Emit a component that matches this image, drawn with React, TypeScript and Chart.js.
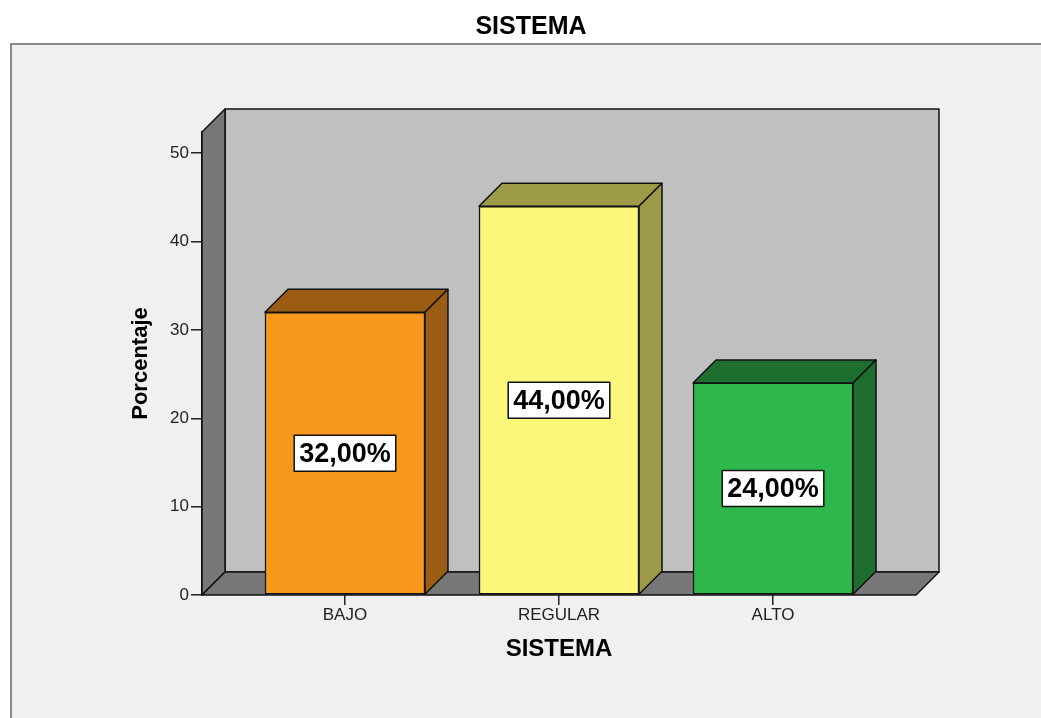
import React, { useEffect, useRef } from "react";
import { Chart, registerables } from "chart.js";

Chart.register(...registerables);

const categories = ["BAJO", "REGULAR", "ALTO"];
const percentages = [32, 44, 24];
const yTickValues = [0, 10, 20, 30, 40, 50];
const frontColors = ["#f8981d", "#fbf77a", "#2eb84b"];
const sideColors = ["#9b5c13", "#9d9a48", "#1e6f2f"];

const FONT = "'Liberation Sans', Arial, sans-serif";
const DX = 23;
const DY = 23;

const framePlugin = {
  id: "frame",
  beforeDraw(chart: any) {
    const { ctx, width, height } = chart;
    ctx.save();
    ctx.fillStyle = "#ffffff";
    ctx.fillRect(0, 0, width, height);
    ctx.fillStyle = "#f0f0f0";
    ctx.fillRect(11, 44, width, height);
    ctx.strokeStyle = "#888888";
    ctx.lineWidth = 2;
    ctx.beginPath();
    ctx.moveTo(11, height + 5);
    ctx.lineTo(11, 44);
    ctx.lineTo(width + 5, 44);
    ctx.stroke();
    ctx.restore();
  },
};

const wallsPlugin = {
  id: "walls",
  beforeDatasetsDraw(chart: any) {
    const { ctx, chartArea } = chart;
    const { left, right, top, bottom } = chartArea;
    ctx.save();
    ctx.lineWidth = 1.5;
    ctx.strokeStyle = "#111";
    ctx.lineJoin = "round";
    ctx.fillStyle = "#c0c0c0";
    ctx.beginPath();
    ctx.rect(left + DX, top - DY, right - left, bottom - top);
    ctx.fill();
    ctx.stroke();
    ctx.fillStyle = "#777777";
    ctx.beginPath();
    ctx.moveTo(left, top);
    ctx.lineTo(left + DX, top - DY);
    ctx.lineTo(left + DX, bottom - DY);
    ctx.lineTo(left, bottom);
    ctx.closePath();
    ctx.fill();
    ctx.stroke();
    ctx.beginPath();
    ctx.moveTo(left, bottom);
    ctx.lineTo(left + DX, bottom - DY);
    ctx.lineTo(right + DX, bottom - DY);
    ctx.lineTo(right, bottom);
    ctx.closePath();
    ctx.fill();
    ctx.stroke();
    ctx.restore();
  },
};

const bars3dPlugin = {
  id: "bars3d",
  afterDatasetsDraw(chart: any) {
    const { ctx } = chart;
    const meta = chart.getDatasetMeta(0);
    ctx.save();
    ctx.lineWidth = 1.5;
    ctx.strokeStyle = "#111";
    ctx.lineJoin = "round";
    meta.data.forEach((bar: any, i: number) => {
      const { x, y, base, width } = bar.getProps(["x", "y", "base", "width"], true);
      const l = x - width / 2;
      const r = x + width / 2;
      ctx.fillStyle = sideColors[i];
      ctx.beginPath();
      ctx.moveTo(l, y);
      ctx.lineTo(l + DX, y - DY);
      ctx.lineTo(r + DX, y - DY);
      ctx.lineTo(r, y);
      ctx.closePath();
      ctx.fill();
      ctx.stroke();
      ctx.beginPath();
      ctx.moveTo(r, y);
      ctx.lineTo(r + DX, y - DY);
      ctx.lineTo(r + DX, base - DY);
      ctx.lineTo(r, base);
      ctx.closePath();
      ctx.fill();
      ctx.stroke();
    });
    ctx.font = `bold 27px ${FONT}`;
    ctx.textAlign = "center";
    ctx.textBaseline = "middle";
    meta.data.forEach((bar: any, i: number) => {
      const { x, y, base } = bar.getProps(["x", "y", "base"], true);
      const text = percentages[i].toFixed(2).replace(".", ",") + "%";
      const tw = ctx.measureText(text).width;
      const bw = tw + 10;
      const bh = 36;
      const cy = (y + base) / 2;
      ctx.fillStyle = "#ffffff";
      ctx.fillRect(x - bw / 2, cy - bh / 2, bw, bh);
      ctx.lineWidth = 1.5;
      ctx.strokeStyle = "#111";
      ctx.strokeRect(x - bw / 2, cy - bh / 2, bw, bh);
      ctx.fillStyle = "#000";
      ctx.fillText(text, x, cy + 1);
    });
    ctx.restore();
  },
};

export default function App() {
  const canvasRef = useRef<HTMLCanvasElement | null>(null);

  useEffect(() => {
    if (!canvasRef.current) return;
    Chart.defaults.font.family = FONT;
    const chart = new Chart(canvasRef.current, {
      type: "bar",
      data: {
        datasets: [
          {
            label: "Porcentaje",
            data: categories.map((_, i) => ({ x: i, y: percentages[i] })),
            backgroundColor: frontColors,
            borderColor: "#111",
            borderWidth: 1.5,
            borderSkipped: false,
            barThickness: 160,
          },
        ],
      },
      options: {
        responsive: false,
        animation: false,
        layout: { padding: { left: 146, right: 125, top: 0, bottom: 0 } },
        plugins: {
          legend: { display: false },
          tooltip: { enabled: false },
          title: {
            display: true,
            text: "SISTEMA",
            color: "#000",
            font: { size: 25, weight: "bold", family: FONT },
            padding: { top: 12, bottom: 90 },
          },
        },
        scales: {
          x: {
            type: "linear",
            offset: false,
            min: -0.668,
            max: 2.668,
            afterBuildTicks: (scale: any) => {
              scale.ticks = categories.map((_, i) => ({ value: i }));
            },
            afterFit: (scale: any) => {
              scale.height = 123;
            },
            ticks: {
              autoSkip: false,
              maxRotation: 0,
              padding: 0,
              color: "#222",
              font: { size: 17, family: FONT },
              callback: (v: any) => categories[v as number] ?? "",
            },
            grid: {
              offset: false,
              drawOnChartArea: false,
              drawTicks: true,
              tickLength: 10,
              color: "#222",
              lineWidth: 1.5,
            },
            border: { display: false },
            title: {
              display: true,
              text: "SISTEMA",
              color: "#000",
              font: { size: 24, weight: "bold", family: FONT },
              padding: { top: 0, bottom: 54.6 },
            },
          },
          y: {
            min: 0,
            max: 52.4,
            afterBuildTicks: (scale: any) => {
              scale.ticks = yTickValues.map((v) => ({ value: v }));
            },
            afterFit: (scale: any) => {
              scale.width = 56;
            },
            ticks: {
              padding: 2,
              color: "#222",
              font: { size: 17, family: FONT },
            },
            grid: {
              drawOnChartArea: false,
              drawTicks: true,
              tickLength: 11,
              color: "#222",
              lineWidth: 1.5,
            },
            border: { display: true, color: "#111", width: 1.5 },
            title: {
              display: true,
              text: "Porcentaje",
              color: "#000",
              font: { size: 22, weight: "bold", family: FONT },
              padding: { top: -18.2, bottom: 0 },
            },
          },
        },
      },
      plugins: [framePlugin, wallsPlugin, bars3dPlugin],
    });
    return () => chart.destroy();
  }, []);

  return (
    <div style={{ position: "fixed", left: 0, top: 0, width: 1041, height: 718 }}>
      <canvas ref={canvasRef} width={1041} height={718} style={{ display: "block" }} />
    </div>
  );
}
